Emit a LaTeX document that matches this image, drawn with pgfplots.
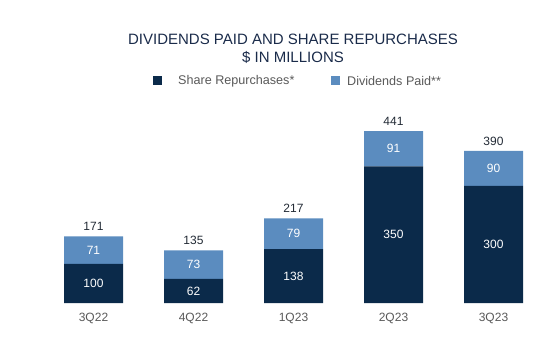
\documentclass[border=0pt]{standalone}
\usepackage{fontspec}
\setmainfont{Liberation Sans}
\usepackage{pgfplots}
\pgfplotsset{compat=1.18}
\definecolor{navy}{HTML}{0B2A4A}
\definecolor{lblue}{HTML}{5B8CBF}
\definecolor{titlec}{HTML}{1A2B4A}
\definecolor{labgray}{HTML}{595959}
\definecolor{totc}{HTML}{222A35}
\begin{document}
\begin{tikzpicture}[x=1pt,y=1pt]
\useasboundingbox (0,0) rectangle (541,337);
\pgfplotsset{
  base/.style={
    at={(0pt,337pt)}, anchor=north west,
    scale only axis, width=541pt, height=303pt,
    xmin=-0.935, xmax=4.475, ymin=0, ymax=776.9,
    axis line style={draw=none}, tick style={draw=none},
    ytick=\empty, clip=false,
  }
}
\begin{axis}[base,
  ybar stacked, bar width=59pt,
  xtick={0,1,2,3,4},
  xticklabels={3Q22,4Q22,1Q23,2Q23,3Q23},
  xticklabel style={anchor=base, yshift=-18.3pt, font=\fontsize{12}{14}\selectfont, text=labgray},
]
\addplot[fill=navy, draw=none] coordinates {(0,100) (1,62) (2,138) (3,350) (4,300)};
\addplot[fill=lblue, draw=none] coordinates {(0,71) (1,73) (2,79) (3,91) (4,90)};
\end{axis}
\begin{axis}[base, xtick=\empty,
  nodes near coords, point meta=explicit symbolic]
\addplot[draw=none, mark=none, nodes near coords style={anchor=center, inner sep=0pt, text=white, font=\fontsize{12}{14}\selectfont}]
  coordinates {(0,50)[100] (1,31)[62] (2,69)[138] (3,175)[350] (4,150)[300]};
\addplot[draw=none, mark=none, nodes near coords style={anchor=center, inner sep=0pt, text=white, font=\fontsize{12}{14}\selectfont}]
  coordinates {(0,135.5)[71] (1,98.5)[73] (2,177.5)[79] (3,395.5)[91] (4,345)[90]};
\addplot[draw=none, mark=none, nodes near coords style={anchor=base, inner sep=0pt, yshift=5.6pt, text=totc, font=\fontsize{12}{14}\selectfont}]
  coordinates {(0,171)[171] (1,135)[135] (2,217)[217] (3,441)[441] (4,390)[390]};
\end{axis}
\node[text=titlec, font=\fontsize{15}{17}\selectfont, anchor=center] at (293,298) {DIVIDENDS PAID AND SHARE REPURCHASES};
\node[text=titlec, font=\fontsize{15}{17}\selectfont, anchor=center] at (293,280) {\$ IN MILLIONS};
\fill[navy] (153,251.5) rectangle (162,260.5);
\node[text=labgray, font=\fontsize{12.6}{14}\selectfont, anchor=west, inner sep=0pt] at (178,256) {Share Repurchases*};
\fill[lblue] (331,251.5) rectangle (340,260.5);
\node[text=labgray, font=\fontsize{12.6}{14}\selectfont, anchor=west, inner sep=0pt] at (347,256) {Dividends Paid**};
\end{tikzpicture}
\end{document}
